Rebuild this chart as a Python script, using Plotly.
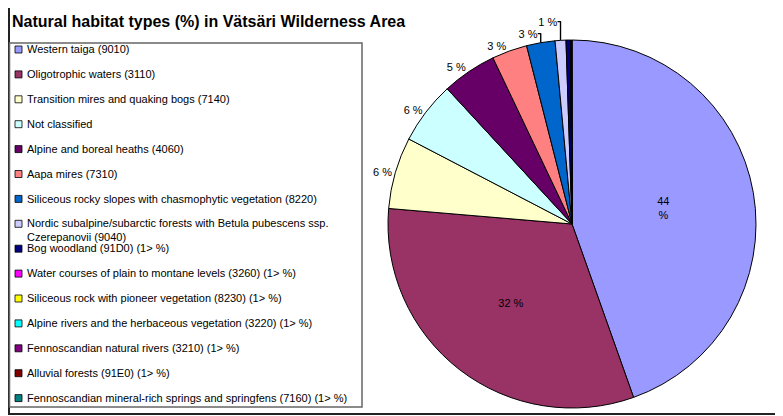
import plotly.graph_objects as go

W, H = 783, 416
OFF = 8  # page body margin of the exported html

title = "Natural habitat types (%) in Vätsäri Wilderness Area"

categories = [
    "Western taiga (9010)",
    "Oligotrophic waters (3110)",
    "Transition mires and quaking bogs (7140)",
    "Not classified",
    "Alpine and boreal heaths (4060)",
    "Aapa mires (7310)",
    "Siliceous rocky slopes with chasmophytic vegetation (8220)",
    "Nordic subalpine/subarctic forests with Betula pubescens ssp.<br>Czerepanovii (9040)",
    "Bog woodland (91D0) (1> %)",
    "Water courses of plain to montane levels (3260) (1> %)",
    "Siliceous rock with pioneer vegetation (8230) (1> %)",
    "Alpine rivers and the herbaceous vegetation (3220) (1> %)",
    "Fennoscandian natural rivers (3210) (1> %)",
    "Alluvial forests (91E0) (1> %)",
    "Fennoscandian mineral-rich springs and springfens (7160) (1> %)",
]

values = [44.6, 31.8, 6.3, 5.5, 4.8, 3.1, 2.5, 0.95, 0.4, 0.02, 0.02, 0.02, 0.02, 0.02, 0.02]

slice_text = ["44<br>%", "32 %", "6 %", "6 %", "5 %", "3 %", "3 %", "1 %",
              "", "", "", "", "", "", ""]

colors = ["#9999FF", "#993366", "#FFFFCC", "#CCFFFF", "#660066", "#FF8080",
          "#0066CC", "#CCCCFF", "#000080", "#FF00FF", "#FFFF00", "#00FFFF",
          "#800080", "#800000", "#008080"]

FONT = "Liberation Sans, Arial, sans-serif"


def px(x):
    return (x - OFF) / W


def py(y):
    return 1 - (y - OFF) / H


# pie geometry (screen pixels)
cx, cy, r = 572, 224, 184

positions = ["inside" if i < 2 else "outside" for i in range(len(values))]

fig = go.Figure()
fig.add_trace(go.Pie(
    labels=categories,
    values=values,
    text=slice_text,
    texttemplate="%{text}",
    textposition=positions,
    insidetextorientation="horizontal",
    sort=False,
    direction="clockwise",
    rotation=0,
    marker=dict(colors=colors, line=dict(color="black", width=1)),
    textfont=dict(family=FONT, size=11, color="black"),
    domain=dict(x=[px(cx - r), px(cx + r)], y=[py(cy + r), py(cy - r)]),
    showlegend=False,
    hoverinfo="label+percent",
))

shapes = []
annotations = []

# outer frame
shapes.append(dict(type="rect", xref="paper", yref="paper",
                   x0=px(9), x1=px(820), y0=py(414), y1=py(4),
                   line=dict(color="#222222", width=2)))
# legend box
shapes.append(dict(type="rect", xref="paper", yref="paper",
                   x0=px(9.5), x1=px(362), y0=py(407), y1=py(43),
                   line=dict(color="#666666", width=1.5)))

# title
annotations.append(dict(text="<b>" + title + "</b>", xref="paper", yref="paper",
                        x=px(10), y=py(21), xanchor="left", yanchor="middle",
                        showarrow=False,
                        font=dict(family=FONT, size=16, color="black")))

# manual legend
y0_leg, step = 49.5, 24.9
for i, (lab, col) in enumerate(zip(categories, colors)):
    yc = y0_leg + step * i
    shapes.append(dict(type="rect", xref="paper", yref="paper",
                       x0=px(15), x1=px(22), y0=py(yc + 3.5), y1=py(yc - 3.5),
                       fillcolor=col, line=dict(color="#000000", width=0.8)))
    annotations.append(dict(text=lab, xref="paper", yref="paper",
                            x=px(24.5), y=py(yc - 8.3), xanchor="left", yanchor="top",
                            align="left", showarrow=False,
                            font=dict(family=FONT, size=11, color="black")))

fig.update_layout(
    width=W, height=H,
    margin=dict(l=0, r=0, t=0, b=0),
    paper_bgcolor="white",
    plot_bgcolor="white",
    shapes=shapes,
    annotations=annotations,
    font=dict(family=FONT),
)

fig.write_html("out.html")
